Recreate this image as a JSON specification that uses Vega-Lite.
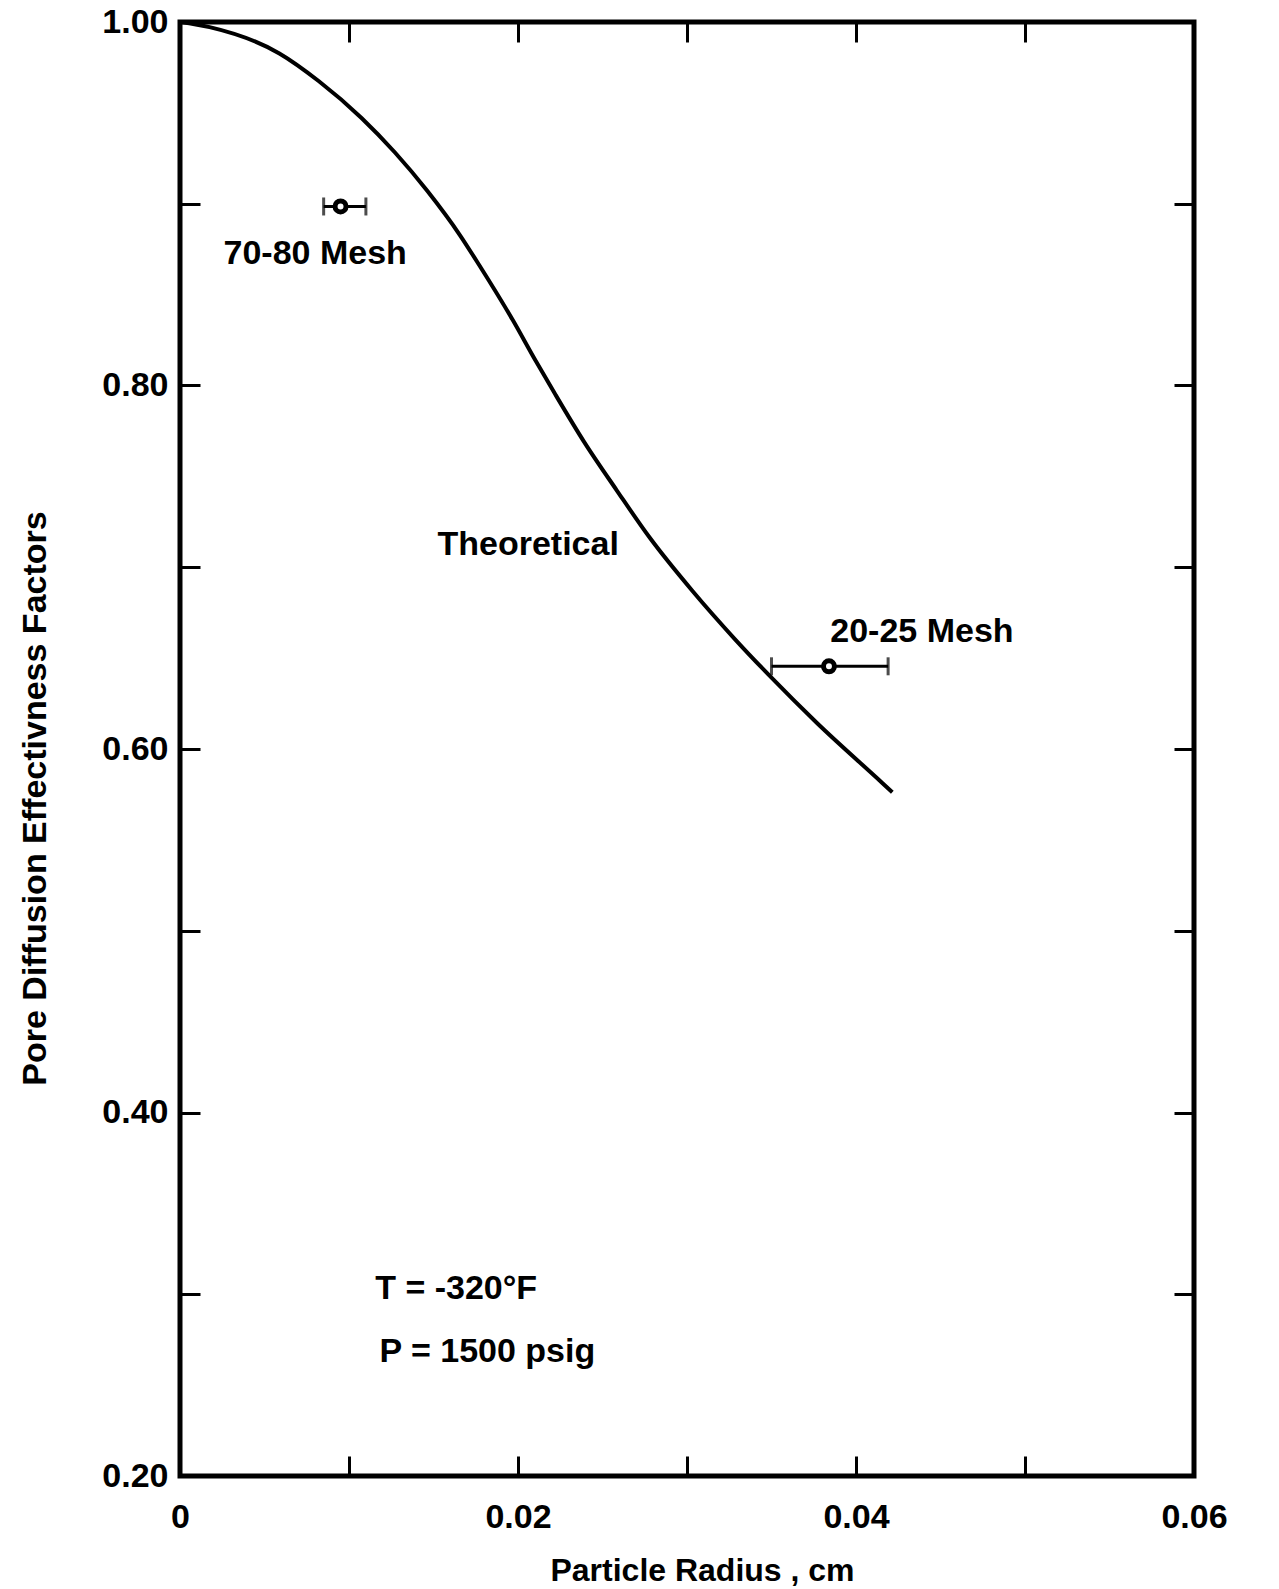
{
  "$schema": "https://vega.github.io/schema/vega-lite/v6.json",
  "width": 1014,
  "height": 1454,
  "autosize": {"type": "none"},
  "padding": {"left": 180, "top": 22, "right": 85, "bottom": 113},
  "background": "white",
  "config": {
    "view": {"stroke": "black", "strokeWidth": 5},
    "font": "Liberation Sans",
    "axis": {
      "grid": false,
      "domain": false,
      "tickColor": "black",
      "tickWidth": 3,
      "tickSize": -20,
      "labelColor": "black",
      "titleColor": "black",
      "labelFont": "Liberation Sans",
      "titleFont": "Liberation Sans",
      "labelFontWeight": "bold",
      "titleFontWeight": "bold",
      "labelFlush": false,
      "labelOverlap": false,
      "labelBound": false
    }
  },
  "datasets": {
    "curve": [
      {"radius": 0.0, "eta": 1.0},
      {"radius": 0.00175, "eta": 0.9972},
      {"radius": 0.00588, "eta": 0.9827},
      {"radius": 0.00822, "eta": 0.9674},
      {"radius": 0.01074, "eta": 0.9472},
      {"radius": 0.01272, "eta": 0.9282},
      {"radius": 0.01464, "eta": 0.907},
      {"radius": 0.01656, "eta": 0.8828},
      {"radius": 0.01772, "eta": 0.866},
      {"radius": 0.01969, "eta": 0.836},
      {"radius": 0.02102, "eta": 0.814},
      {"radius": 0.02217, "eta": 0.7957},
      {"radius": 0.02391, "eta": 0.769},
      {"radius": 0.02583, "eta": 0.7425},
      {"radius": 0.0278, "eta": 0.7162},
      {"radius": 0.0303, "eta": 0.6872},
      {"radius": 0.03283, "eta": 0.6605},
      {"radius": 0.03497, "eta": 0.6395},
      {"radius": 0.03769, "eta": 0.6143},
      {"radius": 0.04157, "eta": 0.5812},
      {"radius": 0.04215, "eta": 0.5762}
    ],
    "measured": [
      {"mesh": "70-80 Mesh", "radius": 0.0095, "lo": 0.0085, "hi": 0.011, "eta": 0.8985},
      {"mesh": "20-25 Mesh", "radius": 0.0384, "lo": 0.035, "hi": 0.0419, "eta": 0.6455}
    ],
    "notesCenter": [
      {"label": "70-80 Mesh", "radius": 0.008, "eta": 0.8724},
      {"label": "Theoretical", "radius": 0.0206, "eta": 0.7124},
      {"label": "20-25 Mesh", "radius": 0.0439, "eta": 0.6643}
    ],
    "notesLeft": [
      {"label": "T = -320°F", "radius": 0.01155, "eta": 0.3029},
      {"label": "P = 1500 psig", "radius": 0.0118, "eta": 0.2683}
    ]
  },
  "layer": [
    {
      "data": {"name": "curve"},
      "mark": {"type": "line", "color": "black", "strokeWidth": 4, "interpolate": "monotone"},
      "encoding": {
        "x": {
          "field": "radius", "type": "quantitative",
          "scale": {"domain": [0, 0.06], "nice": false, "zero": false},
          "axis": {
            "orient": "bottom",
            "values": [0, 0.01, 0.02, 0.03, 0.04, 0.05, 0.06],
            "labelExpr": "datum.value == 0 ? '0' : (round(datum.value * 100) % 2 == 0 ? format(datum.value, '.2f') : '')",
            "labelFontSize": 34,
            "labelPadding": 44,
            "title": "Particle Radius , cm",
            "titleFontSize": 32,
            "titleX": 522,
            "titleY": 94,
            "titleBaseline": "middle",
            "titleAlign": "center"
          }
        },
        "y": {
          "field": "eta", "type": "quantitative",
          "scale": {"domain": [0.2, 1.0], "nice": false, "zero": false},
          "axis": {
            "orient": "left",
            "values": [0.2, 0.3, 0.4, 0.5, 0.6, 0.7, 0.8, 0.9, 1.0],
            "labelExpr": "round(datum.value * 10) % 2 == 0 ? format(datum.value, '.2f') : ''",
            "labelFontSize": 34,
            "labelPadding": 32,
            "title": "Pore Diffusion Effectivness Factors",
            "titleFontSize": 34,
            "titleX": -145,
            "titleY": 776,
            "titleBaseline": "middle",
            "titleAlign": "center",
            "titleAngle": -90
          }
        }
      }
    },
    {
      "data": {"name": "measured"},
      "mark": {"type": "rule", "color": "black", "strokeWidth": 3},
      "encoding": {
        "x": {
          "field": "lo", "type": "quantitative",
          "axis": {"orient": "top", "values": [0.01, 0.02, 0.03, 0.04, 0.05], "labels": false, "title": null}
        },
        "x2": {"field": "hi"},
        "y": {
          "field": "eta", "type": "quantitative",
          "axis": {"orient": "right", "values": [0.3, 0.4, 0.5, 0.6, 0.7, 0.8, 0.9], "labels": false, "title": null}
        }
      }
    },
    {
      "data": {"name": "measured"},
      "mark": {"type": "tick", "orient": "vertical", "color": "black", "size": 18, "thickness": 3},
      "encoding": {
        "x": {"field": "lo", "type": "quantitative", "axis": null},
        "y": {"field": "eta", "type": "quantitative", "axis": null}
      }
    },
    {
      "data": {"name": "measured"},
      "mark": {"type": "tick", "orient": "vertical", "color": "black", "size": 18, "thickness": 3},
      "encoding": {
        "x": {"field": "hi", "type": "quantitative", "axis": null},
        "y": {"field": "eta", "type": "quantitative", "axis": null}
      }
    },
    {
      "data": {"name": "measured"},
      "mark": {"type": "point", "shape": "circle", "filled": true, "fill": "white", "stroke": "black", "strokeWidth": 5, "size": 120, "opacity": 1},
      "encoding": {
        "x": {"field": "radius", "type": "quantitative", "axis": null},
        "y": {"field": "eta", "type": "quantitative", "axis": null}
      }
    },
    {
      "data": {"name": "notesCenter"},
      "mark": {"type": "text", "font": "Liberation Sans", "fontWeight": "bold", "fontSize": 34, "align": "center", "baseline": "middle", "color": "black"},
      "encoding": {
        "x": {"field": "radius", "type": "quantitative", "axis": null},
        "y": {"field": "eta", "type": "quantitative", "axis": null},
        "text": {"field": "label"}
      }
    },
    {
      "data": {"name": "notesLeft"},
      "mark": {"type": "text", "font": "Liberation Sans", "fontWeight": "bold", "fontSize": 34, "align": "left", "baseline": "middle", "color": "black"},
      "encoding": {
        "x": {"field": "radius", "type": "quantitative", "axis": null},
        "y": {"field": "eta", "type": "quantitative", "axis": null},
        "text": {"field": "label"}
      }
    }
  ],
  "resolve": {"axis": {"x": "independent", "y": "independent"}}
}
